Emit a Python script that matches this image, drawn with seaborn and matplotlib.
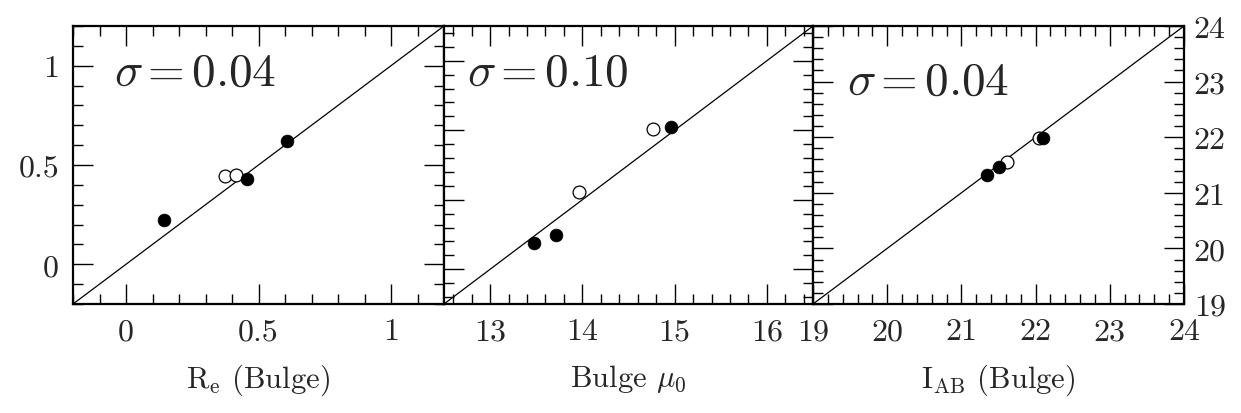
import matplotlib
matplotlib.use("Agg")
import matplotlib.pyplot as plt
import seaborn as sns
from matplotlib.ticker import MultipleLocator, FuncFormatter

# Bulge effective radius
re_filled_x = [0.143, 0.455, 0.606]
re_filled_y = [0.225, 0.432, 0.623]
re_open_x = [0.373, 0.414]
re_open_y = [0.445, 0.452]

# Bulge central surface brightness
mu_filled_x = [13.48, 13.71, 14.96]
mu_filled_y = [13.38, 13.50, 15.05]
mu_open_x = [13.96, 14.77]
mu_open_y = [14.11, 15.02]

# Bulge magnitude
iab_filled_x = [21.35, 21.51, 22.10]
iab_filled_y = [21.32, 21.46, 21.99]
iab_open_x = [21.61, 22.04]
iab_open_y = [21.56, 21.99]

sigma_labels = ["0.04", "0.10", "0.04"]
x_labels = [r"R$_\mathrm{e}$ (Bulge)", r"Bulge $\mu_0$", r"I$_\mathrm{AB}$ (Bulge)"]
limits = [(-0.2, 1.2), (12.5, 16.5), (19.0, 24.0)]
major_steps = [0.5, 1.0, 1.0]
minor_steps = [0.1, 0.2, 0.2]

sns.set_theme(style="ticks")
plt.rcParams["font.family"] = ["cmr10"]
plt.rcParams["mathtext.fontset"] = "cm"
plt.rcParams["axes.formatter.use_mathtext"] = True

fig = plt.figure(figsize=(12.41, 4.14), dpi=100)
W, H = 1241, 414
edges = [73, 444, 813, 1184]
top, bottom = 27, 305

panels = [
    (re_filled_x, re_filled_y, re_open_x, re_open_y),
    (mu_filled_x, mu_filled_y, mu_open_x, mu_open_y),
    (iab_filled_x, iab_filled_y, iab_open_x, iab_open_y),
]
text_pos = [(0.11, 0.83), (0.062, 0.83), (0.092, 0.80)]

fmt = FuncFormatter(lambda v, p: f"{v:g}")

for i, (fx, fy, ox, oy) in enumerate(panels):
    ax = fig.add_axes([edges[i] / W, 1 - bottom / H,
                       (edges[i + 1] - edges[i]) / W, (bottom - top) / H])
    lo, hi = limits[i]
    ax.axline((lo, lo), slope=1, color="black", lw=0.9, zorder=1)
    sns.scatterplot(x=ox, y=oy, ax=ax, color="white", edgecolor="black",
                    linewidth=0.9, s=85, zorder=3)
    sns.scatterplot(x=fx, y=fy, ax=ax, color="black", edgecolor="black",
                    linewidth=0.5, s=85, zorder=4)
    ax.set_xlim(lo, hi)
    ax.set_ylim(lo, hi)
    for axis in (ax.xaxis, ax.yaxis):
        axis.set_major_locator(MultipleLocator(major_steps[i]))
        axis.set_minor_locator(MultipleLocator(minor_steps[i]))
        axis.set_major_formatter(fmt)
    ax.tick_params(which="both", direction="in", top=True, right=True,
                   bottom=True, left=True, color="black", width=1.0)
    ax.tick_params(which="major", length=14.5, labelsize=23, pad=10)
    ax.tick_params(which="minor", length=7.2)
    if i == 0:
        ax.tick_params(axis="y", labelleft=True, labelright=False)
    elif i == 1:
        ax.tick_params(axis="y", labelleft=False, labelright=False)
    else:
        ax.tick_params(axis="y", labelleft=False, labelright=True, pad=7)
    for sp in ax.spines.values():
        sp.set_linewidth(1.6)
        sp.set_color("black")
    ax.set_xlabel(x_labels[i], fontsize=22, labelpad=12)
    ax.set_ylabel("")
    tx, ty = text_pos[i]
    ax.text(tx, ty, r"$\sigma\,$=$\,$" + sigma_labels[i], transform=ax.transAxes,
            fontsize=34, va="center", ha="left")

fig.savefig("out.png", dpi=100)
